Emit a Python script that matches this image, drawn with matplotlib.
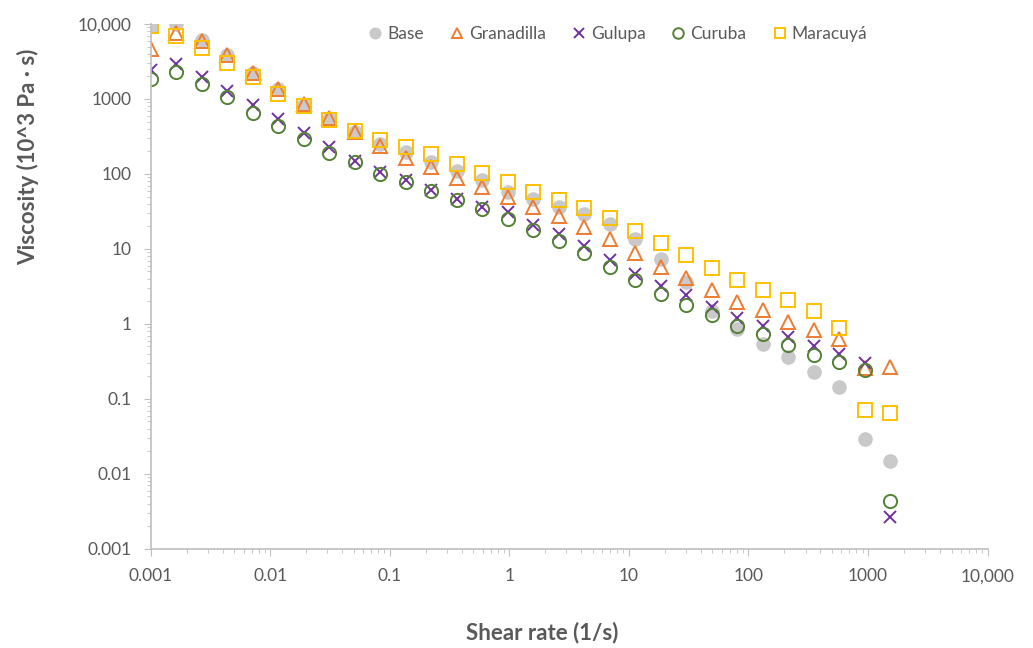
import matplotlib
matplotlib.use("Agg")
import matplotlib.pyplot as plt
from matplotlib.ticker import FixedLocator, FixedFormatter, LogLocator, NullFormatter

plt.rcParams['font.family'] = ['Lato', 'DejaVu Sans']

# shear rate (1/s), 30 points
shear_rate = [0.001, 0.001634, 0.00267, 0.00436, 0.00713, 0.01165, 0.01904, 0.0311,
              0.0508, 0.0831, 0.1358, 0.2219, 0.3626, 0.5925, 0.968, 1.582, 2.585,
              4.224, 6.902, 11.28, 18.43, 30.12, 49.21, 80.42, 131.4, 214.7, 350.9,
              573.4, 937.0, 1531.0]

# viscosity (10^3 Pa s)
base = [9400, 9900, 6200, 3900, 2250, 1350, 830, 540, 365, 250, 195, 146, 108, 83,
        58, 46, 36.6, 29, 21.5, 13.5, 7.3, 3.6, 1.5, 0.86, 0.54, 0.366, 0.231,
        0.143, 0.029, 0.015]
granadilla = [4700, 7600, 6000, 3850, 2200, 1340, 850, 550, 365, 235, 165, 123, 88,
              68, 50, 36.6, 27.5, 19.4, 13.5, 8.8, 5.8, 4.1, 2.84, 1.98, 1.52, 1.07,
              0.83, 0.635, 0.26, 0.27]
gulupa = [2450, 2950, 1950, 1270, 820, 545, 350, 228, 148, 106, 82, 62, 47, 36, 31,
          21, 15.8, 11, 7.1, 4.7, 3.2, 2.4, 1.67, 1.21, 0.93, 0.67, 0.5, 0.40, 0.30,
          0.00265]
curuba = [1820, 2320, 1570, 1050, 650, 435, 295, 190, 143, 100, 78, 60, 45, 34, 25,
          18, 12.8, 8.8, 5.8, 3.9, 2.5, 1.8, 1.32, 0.94, 0.73, 0.52, 0.39, 0.31,
          0.244, 0.0043]
maracuya = [9400, 7000, 4740, 2990, 1945, 1166, 807, 530, 370, 287, 231, 185, 136,
            102, 79, 58, 45, 34.9, 25.6, 17.3, 11.9, 8.3, 5.5, 3.8, 2.84, 2.07, 1.48,
            0.877, 0.0713, 0.0644]

x_ticks = [0.001, 0.01, 0.1, 1, 10, 100, 1000, 10000]
x_ticklabels = ["0.001", "0.01", "0.1", "1", "10", "100", "1000", "10,000"]
y_ticks = [0.001, 0.01, 0.1, 1, 10, 100, 1000, 10000]
y_ticklabels = ["0.001", "0.01", "0.1", "1", "10", "100", "1000", "10,000"]

text_col = "#595959"
axis_col = "#BFBFBF"

fig = plt.figure(figsize=(10.33, 6.48), dpi=100)
ax = fig.add_axes([0.146, 0.153, 0.81, 0.81])

ms = 9.5
mew = 1.4
ax.plot(shear_rate, base, ls="none", marker="o", ms=ms, mfc="#C9C9C9", mec="#C9C9C9",
        label="Base")
ax.plot(shear_rate, granadilla, ls="none", marker="^", ms=ms, mfc="none", mec="#ED7D31",
        mew=mew, label="Granadilla")
ax.plot(shear_rate, gulupa, ls="none", marker="x", ms=ms - 1, mec="#7030A0",
        mew=mew, label="Gulupa")
ax.plot(shear_rate, curuba, ls="none", marker="o", ms=ms, mfc="none", mec="#548235",
        mew=mew, label="Curuba")
ax.plot(shear_rate, maracuya, ls="none", marker="s", ms=ms, mfc="none", mec="#FFC000",
        mew=mew, label="Maracuyá")

ax.set_xscale("log")
ax.set_yscale("log")
ax.set_xlim(0.001, 10000)
ax.set_ylim(0.001, 10000)

ax.xaxis.set_major_locator(FixedLocator(x_ticks))
ax.xaxis.set_major_formatter(FixedFormatter(x_ticklabels))
ax.yaxis.set_major_locator(FixedLocator(y_ticks))
ax.yaxis.set_major_formatter(FixedFormatter(y_ticklabels))
ax.xaxis.set_minor_locator(LogLocator(base=10, subs=range(2, 10), numticks=20))
ax.yaxis.set_minor_locator(LogLocator(base=10, subs=range(2, 10), numticks=20))
ax.xaxis.set_minor_formatter(NullFormatter())
ax.yaxis.set_minor_formatter(NullFormatter())

for side in ["top", "right"]:
    ax.spines[side].set_visible(False)
for side in ["left", "bottom"]:
    ax.spines[side].set_color(axis_col)
    ax.spines[side].set_linewidth(1.2)

ax.tick_params(which="major", length=5, color=axis_col, labelsize=12.5,
               labelcolor=text_col, pad=9)
ax.tick_params(which="minor", length=3, color=axis_col)

ax.set_xlabel("Shear rate (1/s)", fontsize=16, fontweight="bold", color=text_col)
ax.set_ylabel("Viscosity (10^3 Pa · s)", fontsize=16, fontweight="bold",
              color=text_col)
ax.xaxis.set_label_coords(0.468, -0.139)
ax.yaxis.set_label_coords(-0.133, 0.747)

leg = ax.legend(ncol=5, loc="upper right", bbox_to_anchor=(0.875, 1.025), frameon=False,
                fontsize=12.5, handletextpad=0.1, columnspacing=1.3, handlelength=1.2,
                markerscale=0.8)
for t in leg.get_texts():
    t.set_color(text_col)

fig.savefig("out.png", dpi=100)
